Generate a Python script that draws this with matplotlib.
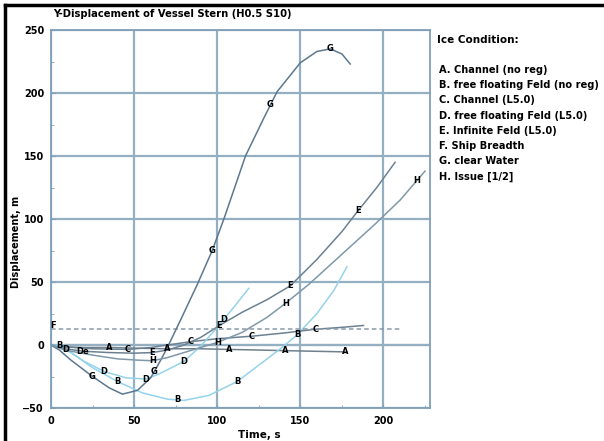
import matplotlib
matplotlib.use('Agg')
import matplotlib.pyplot as plt
from matplotlib.lines import Line2D
from matplotlib.ticker import MultipleLocator
import numpy as np

plt.rcParams['font.family'] = ['DejaVu Sans']

# ---- data ----
A_t = [0, 8, 20, 35, 50, 70, 90, 107, 125, 141, 160, 178]
A_y = [0, -1.5, -2, -2, -2.5, -3, -3, -3.5, -4, -4.5, -5, -5.5]

B_t = [0, 5, 12, 25, 40, 55, 70, 80, 95, 112, 125, 138, 148, 160, 170, 178]
B_y = [0, 0, -6, -18, -29, -38, -43, -44, -40, -29, -16, -3, 8, 25, 43, 62]

C_t = [0, 8, 25, 46, 60, 70, 84, 100, 121, 140, 159, 175, 188]
C_y = [0, -1.5, -3, -3.5, -2, 0, 2.6, 5, 7, 9.5, 12.5, 14, 15.5]

D_t = [0, 5, 12, 20, 32, 45, 57, 65, 80, 90, 100, 110, 119]
D_y = [0, -1, -6, -13, -21, -26, -27, -23, -13, -1, 14, 30, 45]

E_t = [0, 8, 20, 35, 50, 61, 70, 80, 90, 102, 115, 130, 144, 160, 175, 185, 196, 207]
E_y = [0, -3, -5, -6, -6.5, -6, -4, 0, 6, 16, 26, 36, 47, 68, 90, 107, 125, 145]

F_t = [0, 210]
F_y = [12.5, 12.5]

G_t = [0, 5, 12, 25, 35, 43, 52, 60, 66, 70, 78, 88, 97, 104, 117, 128, 136,
       150, 160, 168, 175, 180]
G_y = [0, -4, -12, -25, -34, -39, -36, -26, -12, -2, 20, 48, 75, 100, 150, 180,
       201, 224, 233, 235, 231, 223]

H_t = [0, 8, 25, 40, 52, 61, 70, 80, 90, 100, 115, 130, 141, 155, 170, 180,
       195, 210, 225]
H_y = [0, -4, -8, -11, -12, -12.5, -10, -6, -2, 2, 10, 22, 33, 48, 66, 78,
       96, 115, 138]

# where the letter tags sit on each curve (time, s)
A_tags = [35, 70, 107, 141, 177]
B_tags = [5, 40, 76, 112, 148]
C_tags = [46, 84, 121, 159]
D_tags = [9, 32, 57, 80, 104]
E_tags = [61, 101, 144, 185]
F_tags = [1]
G_tags = [25, 62, 97, 132, 168]
H_tags = [61, 100, 141, 220]

legend_title = 'Ice Condition:'
legend_labels = ['A. Channel (no reg)', 'B. free floating Feld (no reg)',
                 'C. Channel (L5.0)', 'D. free floating Feld (L5.0)',
                 'E. Infinite Feld (L5.0)', 'F. Ship Breadth',
                 'G. clear Water', 'H. Issue [1/2]']

dark = '#6b8193'
light = '#94d3ea'

series = [
    ('A', A_t, A_y, A_tags, '#6f7f8c', '-'),
    ('B', B_t, B_y, B_tags, light, '-'),
    ('C', C_t, C_y, C_tags, dark, '-'),
    ('D', D_t, D_y, D_tags, light, '-'),
    ('E', E_t, E_y, E_tags, dark, '-'),
    ('F', F_t, F_y, F_tags, '#8a9aa8', (0, (3, 2))),
    ('G', G_t, G_y, G_tags, '#5c7890', '-'),
    ('H', H_t, H_y, H_tags, '#7f98aa', '-'),
]

fig = plt.figure(figsize=(6.04, 4.41), dpi=100)
ax = fig.add_axes([51/604, 1 - 408/441, (430 - 51)/604, (408 - 30)/441])
ax.set_xlim(0, 228)
ax.set_ylim(-50, 250)

ax.xaxis.set_major_locator(MultipleLocator(50))
ax.xaxis.set_minor_locator(MultipleLocator(25))
ax.yaxis.set_major_locator(MultipleLocator(50))
ax.yaxis.set_minor_locator(MultipleLocator(25))
ax.grid(which='major', color='#94aec2', lw=1.6)
ax.axhline(0, color='#6e7c88', lw=1.5, zorder=1)
ax.tick_params(which='both', direction='in', color='#7f9fb8')
ax.tick_params(which='major', length=3, labelsize=7)
ax.tick_params(axis='x', which='major', pad=6)
ax.tick_params(axis='y', which='major', pad=5)
ax.tick_params(which='minor', length=2)
for lab in ax.get_xticklabels() + ax.get_yticklabels():
    lab.set_fontweight('bold')
for s in ax.spines.values():
    s.set_color('#7f9fb8')
    s.set_linewidth(1.3)

for name, t, y, tags, col, ls in series:
    ax.plot(t, y, color=col, lw=1.1, ls=ls, zorder=3)
    for tt in tags:
        yy = np.interp(tt, t, y)
        dy = 3 if name == 'F' else 0
        ax.annotate(name, (tt, yy), xytext=(0, dy), textcoords='offset points',
                    ha='center', va='center', fontsize=6, fontweight='bold',
                    color='black', zorder=5)
# the merged tag near the start of the E curve
ax.annotate('De', (19, np.interp(19, E_t, E_y)), ha='center', va='center',
            fontsize=6, fontweight='bold', color='black', zorder=5)

ax.set_xlabel('Time, s', fontsize=7.5, fontweight='bold')
ax.xaxis.set_label_coords(0.55, -0.058)
ax.set_ylabel('Displacement, m', fontsize=7, fontweight='bold')
ax.yaxis.set_label_coords(-0.079, 0.44)

fig.text(53/604, 1 - 14/441, 'Y-Displacement of Vessel Stern (H0.5 S10)',
         fontsize=7.2, fontweight='bold', ha='left', va='center')

fig.text(437/604, 1 - 40/441, legend_title, fontsize=7.5, fontweight='bold',
         ha='left', va='center')
for i, lab in enumerate(legend_labels):
    fig.text(439/604, 1 - (70 + i * 15.2)/441, lab, fontsize=7.1,
             fontweight='bold', ha='left', va='center')

# black frame on the left and top of the picture
fig.add_artist(Line2D([5/604, 5/604], [0, 1 - 5/441], color='black', lw=2.5,
                      transform=fig.transFigure))
fig.add_artist(Line2D([5/604, 1], [1 - 5/441, 1 - 5/441], color='black', lw=2.5,
                      transform=fig.transFigure))

fig.savefig('out.png', dpi=100, facecolor='white')
